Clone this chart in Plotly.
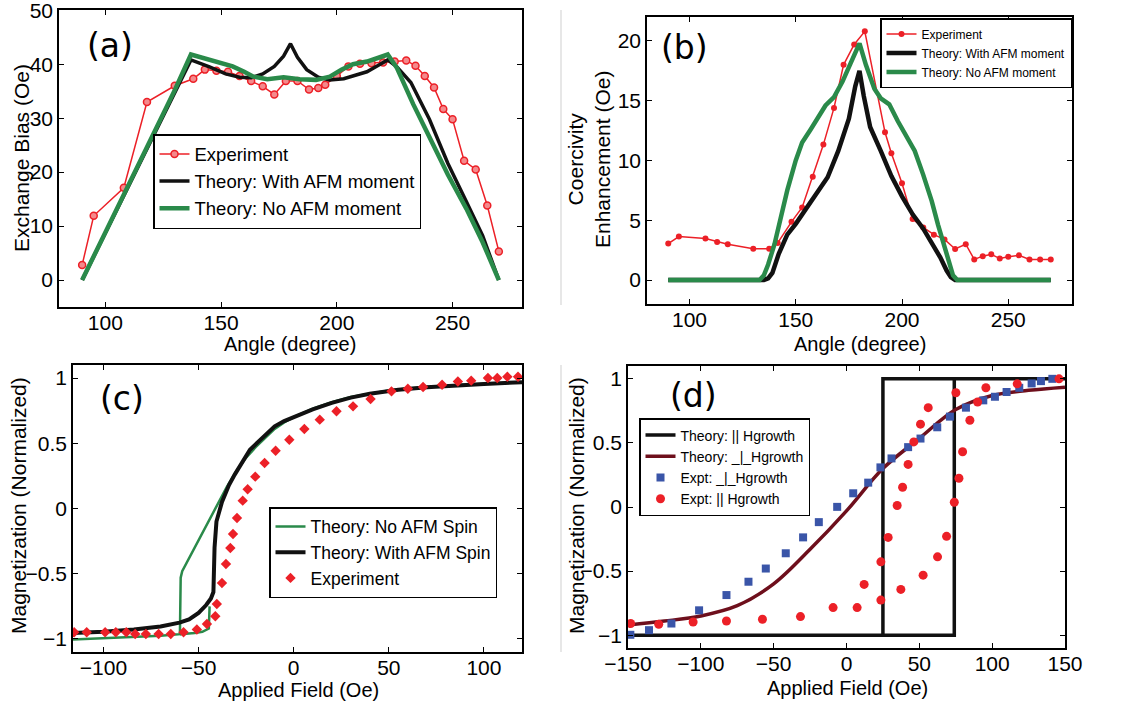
import plotly.graph_objects as go

# ---------------- Panel (a): Exchange bias vs angle ----------------
a_exp_angle = [90, 95, 108, 118, 130, 138, 143, 148, 153, 158, 163, 168, 173, 178, 183, 188,
               192, 195, 200, 205, 210, 215, 220, 225, 230, 234, 238, 242, 246, 250, 255, 260, 265, 270]
a_exp_bias = [2.8, 11.9, 17.1, 33.0, 36.0, 37.3, 39.0, 38.8, 38.6, 37.8, 36.9, 35.9, 34.4, 36.9, 36.9, 35.3,
              35.6, 36.2, 37.8, 39.6, 40.1, 40.2, 40.3, 40.5, 40.7, 39.7, 37.8, 35.7, 31.7, 29.8, 22.1, 20.5, 13.8, 5.3]

a_afm_angle = [90, 100, 110, 120, 130, 137, 145, 152, 158, 163, 168, 173, 177, 180, 183, 187, 192, 197,
               203, 208, 213, 218, 222, 226, 232, 240, 248, 256, 263, 270]
a_afm_bias = [0, 8.7, 17.5, 26.3, 35.0, 40.8, 39.5, 38.2, 37.6, 37.5, 38.2, 39.6, 41.5, 43.8, 41.3, 39.0, 37.6, 37.1,
              37.3, 37.9, 38.6, 39.8, 40.8, 39.5, 36.6, 29.8, 21.6, 14.5, 8.2, 0]

a_noafm_angle = [90, 100, 110, 120, 130, 137, 142, 148, 155, 160, 164, 170, 177, 184, 191, 197, 202, 207,
                 213, 218, 222, 226, 233, 240, 248, 256, 263, 270]
a_noafm_bias = [0, 8.7, 17.5, 26.3, 35.2, 41.8, 41.2, 40.4, 39.6, 38.6, 37.7, 37.2, 37.6, 37.2, 37.1, 37.7, 39.0, 40.0,
                40.5, 41.2, 41.8, 39.3, 32.6, 26.5, 19.5, 13.2, 7.0, 0]

# ---------------- Panel (b): Coercivity enhancement vs angle ----------------
b_exp_angle = [90, 95, 107.5, 113, 118, 130, 137.5, 141.5, 148, 153, 158, 163, 168, 172.5, 177.5, 182.5,
               192, 195, 200, 205, 210, 215, 220, 225, 230, 234, 238, 242, 246, 250, 255, 260, 265, 270]
b_exp_hc = [3.05, 3.64, 3.47, 3.19, 2.99, 2.63, 2.63, 3.1, 4.87, 6.07, 8.64, 11.33, 14.4, 18.0, 19.7, 20.8,
            12.36, 10.6, 8.1, 5.1, 4.4, 3.8, 3.4, 2.6, 3.0, 1.73, 2.0, 2.15, 1.8, 1.96, 2.07, 1.73, 1.73, 1.73]

b_afm_angle = [90, 135, 137, 139, 142, 146, 150, 155, 160, 165, 170, 175, 178, 180, 182, 185, 190, 195,
               200, 205, 210, 215, 218, 221, 223, 225, 270]
b_afm_hc = [0, 0, 0.15, 0.6, 2.2, 3.8, 4.7, 6.0, 7.2, 8.6, 10.8, 13.5, 16.2, 17.5, 15.4, 12.8, 10.8, 8.7,
            7.0, 5.5, 4.3, 2.9, 1.9, 0.8, 0.25, 0, 0]

b_noafm_angle = [90, 133, 135, 137, 140, 143, 146, 150, 153, 157, 161, 164, 168, 172, 176, 180, 183, 187,
                 190, 194, 198, 202, 206, 210, 214, 217, 220, 222, 224, 226, 270]
b_noafm_hc = [0, 0, 0.4, 1.3, 3.0, 5.2, 7.5, 10.0, 11.5, 12.6, 13.8, 14.6, 15.3, 16.6, 18.2, 19.8, 18.0, 16.0,
              15.2, 14.7, 13.3, 12.0, 10.8, 8.8, 6.6, 4.6, 2.8, 1.3, 0.4, 0, 0]

# ---------------- Panel (c): Magnetization loops ----------------
c_noafm_field = [-116, -100, -84, -70, -59.8, -59.4, -58.6, -41, -38, -35, -30, -25, -20, -15, -10, -5, 0,
                 10, 20, 30, 40, 50, 60, 75, 90, 105, 120,
                 None, -59.8, -52, -48, -44.6, -44.2]
c_noafm_m = [-1.005, -0.995, -0.987, -0.976, -0.963, -0.53, -0.48, 0.0, 0.08, 0.17, 0.29, 0.39, 0.47, 0.54, 0.61, 0.66, 0.70,
             0.765, 0.815, 0.855, 0.88, 0.905, 0.92, 0.937, 0.948, 0.958, 0.967,
             None, -0.963, -0.955, -0.945, -0.92, -0.75]

c_afm_field = [-116, -100, -84, -70, -60, -55, -50, -46, -43.5, -42.2, -41.6, -40.6, -37.7, -34, -31, -27, -23,
               -18, -14, -10, -5, 0, 5, 10, 20, 30, 40, 55, 70, 85, 100, 120]
c_afm_m = [-0.954, -0.945, -0.928, -0.905, -0.875, -0.85, -0.80, -0.74, -0.69, -0.64, -0.30, -0.10, 0.05, 0.18,
           0.26, 0.36, 0.45, 0.52, 0.58, 0.63, 0.67, 0.70, 0.73, 0.76, 0.81, 0.85, 0.88, 0.91, 0.93, 0.945, 0.955, 0.968]

c_exp_field = [-115.4, -108.8, -99.1, -93.5, -88, -83.3, -77.7, -71, -64.6, -57.9, -50.9, -45.6, -41.2, -40.4,
               -37.7, -35.6, -33.3, -31.9, -29.8, -26.8, -24.2, -20.2, -15.3, -9.5, -2.3, 5.6, 13.7, 22.5, 31.2,
               40.4, 51.4, 60, 68, 78, 86.3, 93.3, 102.1, 107, 112.3, 117.9]
c_exp_m = [-0.949, -0.949, -0.949, -0.949, -0.949, -0.962, -0.962, -0.962, -0.962, -0.949, -0.928, -0.885, -0.826,
           -0.732, -0.571, -0.425, -0.303, -0.195, -0.073, 0.060, 0.147, 0.244, 0.349, 0.443, 0.527, 0.609, 0.681,
           0.745, 0.783, 0.839, 0.898, 0.918, 0.931, 0.949, 0.974, 0.980, 1.0, 1.0, 1.01, 1.01]

# ---------------- Panel (d): Magnetization vs growth field direction ----------------
d_par_theory_field = [-148, 74, 74, 150, 25, 25]
d_par_theory_m = [-1, -1, 1, 1, 1, -1]

d_perp_theory_field = [-150, -125, -100, -75, -50, -25, 0, 25, 50, 75, 100, 125, 150]
d_perp_theory_m = [-0.92, -0.89, -0.85, -0.77, -0.60, -0.33, -0.03, 0.30, 0.535, 0.76, 0.87, 0.91, 0.935]

d_perp_exp_field = [-148.4, -135.6, -120.2, -101.2, -82.4, -67.3, -55.4, -41.7, -29.8, -19, -6.4, 4.6, 14.9,
                    23.3, 30.9, 42.3, 50.8, 62.3, 71, 82, 93.9, 101.9, 109.9, 118.6, 127.1, 133.5, 141.3]
d_perp_exp_m = [-0.997, -0.961, -0.909, -0.806, -0.687, -0.583, -0.480, -0.361, -0.237, -0.118, 0.001, 0.107, 0.190,
                0.309, 0.379, 0.467, 0.534, 0.622, 0.705, 0.775, 0.832, 0.860, 0.897, 0.930, 0.964, 0.982, 1.0]

d_par_exp_field = [-148.2, -128.9, -105.3, -82.4, -57.7, -31.6, -9.2, 7.3, 12.1, 23.6, 23.6, 28.6, 34.8, 38.5,
                   42.3, 46.2, 50.8, 56.1, 37.3, 52.6, 62.5, 68.7, 74, 77.2, 79.7, 84.7, 90, 75.1, 95.7, 117.2, 145.9]
d_par_exp_m = [-0.909, -0.915, -0.897, -0.889, -0.876, -0.855, -0.785, -0.785, -0.604, -0.726, -0.428, -0.237, 0.012,
               0.154, 0.332, 0.508, 0.646, 0.775, -0.643, -0.532, -0.389, -0.229, 0.037, 0.224, 0.431, 0.677, 0.819,
               0.891, 0.930, 0.961, 1.0]

# ---------------- styling ----------------
RED = "#ec2027"
GREEN = "#2a8a4a"
BLACK = "#111111"
BLUE = "#3a55a8"
MAROON = "#6e0f1c"
FONT = "Liberation Sans"
W, H = 1123, 704


def px_x(p):
    return p / W


def px_y(p):
    return 1 - p / H


def dom_x(l, r):
    return [px_x(l), px_x(r)]


def dom_y(t, b):
    return [px_y(b), px_y(t)]


fig = go.Figure()

# (a)
fig.add_trace(go.Scatter(x=a_exp_angle, y=a_exp_bias, mode="lines+markers", name="Experiment",
                         line=dict(color=RED, width=1.5),
                         marker=dict(symbol="circle", size=7, color="#f4898c", line=dict(color=RED, width=1.5)),
                         xaxis="x", yaxis="y", legend="legend"))
fig.add_trace(go.Scatter(x=a_afm_angle, y=a_afm_bias, mode="lines", name="Theory: With AFM moment",
                         line=dict(color=BLACK, width=3.5), xaxis="x", yaxis="y", legend="legend"))
fig.add_trace(go.Scatter(x=a_noafm_angle, y=a_noafm_bias, mode="lines", name="Theory: No AFM moment",
                         line=dict(color=GREEN, width=4.5), xaxis="x", yaxis="y", legend="legend"))

# (b)
fig.add_trace(go.Scatter(x=b_exp_angle, y=b_exp_hc, mode="lines+markers", name="Experiment",
                         line=dict(color=RED, width=1.5), marker=dict(symbol="circle", size=6, color=RED),
                         xaxis="x2", yaxis="y2", legend="legend2"))
fig.add_trace(go.Scatter(x=b_afm_angle, y=b_afm_hc, mode="lines", name="Theory: With AFM moment",
                         line=dict(color=BLACK, width=4.5), xaxis="x2", yaxis="y2", legend="legend2"))
fig.add_trace(go.Scatter(x=b_noafm_angle, y=b_noafm_hc, mode="lines", name="Theory: No AFM moment",
                         line=dict(color=GREEN, width=4.5), xaxis="x2", yaxis="y2", legend="legend2"))

# (c)
fig.add_trace(go.Scatter(x=c_noafm_field, y=c_noafm_m, mode="lines", name="Theory: No AFM Spin",
                         line=dict(color=GREEN, width=2.5), connectgaps=False,
                         xaxis="x3", yaxis="y3", legend="legend3"))
fig.add_trace(go.Scatter(x=c_afm_field, y=c_afm_m, mode="lines", name="Theory: With AFM Spin",
                         line=dict(color=BLACK, width=4), xaxis="x3", yaxis="y3", legend="legend3"))
fig.add_trace(go.Scatter(x=c_exp_field, y=c_exp_m, mode="markers", name="Experiment",
                         marker=dict(symbol="diamond", size=8, color=RED),
                         xaxis="x3", yaxis="y3", legend="legend3"))

# (d)
fig.add_trace(go.Scatter(x=d_par_theory_field, y=d_par_theory_m, mode="lines", name="Theory: || Hgrowth",
                         line=dict(color=BLACK, width=3.5), xaxis="x4", yaxis="y4", legend="legend4"))
fig.add_trace(go.Scatter(x=d_perp_theory_field, y=d_perp_theory_m, mode="lines", name="Theory: _|_Hgrowth",
                         line=dict(color=MAROON, width=3.5, shape="spline", smoothing=1.0),
                         xaxis="x4", yaxis="y4", legend="legend4"))
fig.add_trace(go.Scatter(x=d_perp_exp_field, y=d_perp_exp_m, mode="markers", name="Expt: _|_Hgrowth",
                         marker=dict(symbol="square", size=8, color=BLUE),
                         xaxis="x4", yaxis="y4", legend="legend4"))
fig.add_trace(go.Scatter(x=d_par_exp_field, y=d_par_exp_m, mode="markers", name="Expt: || Hgrowth",
                         marker=dict(symbol="circle", size=9, color=RED),
                         xaxis="x4", yaxis="y4", legend="legend4"))

axis_common = dict(showline=True, linecolor="black", linewidth=1.5, mirror="ticks", ticks="inside",
                   ticklen=5, tickwidth=1, tickcolor="black", showgrid=False, zeroline=False,
                   ticklabeloverflow="allow",
                   tickfont=dict(family=FONT, size=21, color="black"))
xaxis_extra = dict(ticklabelstandoff=-4)

legend_common = dict(bgcolor="white", bordercolor="black", borderwidth=1.5, xanchor="left", yanchor="top",
                     tracegroupgap=0, itemwidth=30)

fig.update_layout(
    width=W, height=H, paper_bgcolor="white", plot_bgcolor="white",
    margin=dict(l=0, r=0, t=0, b=0, autoexpand=False),
    font=dict(family=FONT, color="black"),
    xaxis=dict(axis_common, **xaxis_extra, domain=dom_x(59, 522), range=[80, 280],
               tickvals=[100, 150, 200, 250], anchor="y"),
    yaxis=dict(axis_common, domain=dom_y(10, 307), range=[-5, 50.05], dtick=10, anchor="x"),
    xaxis2=dict(axis_common, **xaxis_extra, domain=dom_x(647, 1072), range=[80, 280],
                tickvals=[100, 150, 200, 250], anchor="y2"),
    yaxis2=dict(axis_common, domain=dom_y(17, 304), range=[-2, 22], tickvals=[0, 5, 10, 15, 20], anchor="x2"),
    xaxis3=dict(axis_common, **xaxis_extra, domain=dom_x(73, 522), range=[-116, 120],
                tickvals=[-100, -50, 0, 50, 100], anchor="y3"),
    yaxis3=dict(axis_common, domain=dom_y(365, 652), range=[-1.1, 1.1], tickvals=[-1, -0.5, 0, 0.5, 1], anchor="x3"),
    xaxis4=dict(axis_common, **xaxis_extra, domain=dom_x(628, 1065), range=[-150, 150],
                tickvals=[-150, -100, -50, 0, 50, 100, 150], anchor="y4"),
    yaxis4=dict(axis_common, domain=dom_y(366, 648), range=[-1.1, 1.1], tickvals=[-1, -0.5, 0, 0.5, 1], anchor="x4"),
    legend=dict(legend_common, x=px_x(153), y=px_y(134), font=dict(family=FONT, size=18.5, color="black")),
    legend2=dict(legend_common, x=px_x(880), y=px_y(18), font=dict(family=FONT, size=12, color="black")),
    legend3=dict(legend_common, x=px_x(269), y=px_y(507), font=dict(family=FONT, size=17.5, color="black")),
    legend4=dict(legend_common, x=px_x(639), y=px_y(418), font=dict(family=FONT, size=14, color="black")),
    showlegend=True,
)

# axis titles (placed as text at the reference positions)
xt_font = dict(family=FONT, size=20, color="black")
yt_font = dict(family=FONT, size=21, color="black")
x_titles = [("Angle (degree)", 290, 344), ("Angle (degree)", 860, 344),
            ("Applied Field (Oe)", 298, 690), ("Applied Field (Oe)", 847, 688)]
for txt, xc, yc in x_titles:
    fig.add_annotation(text=txt, x=px_x(xc), y=px_y(yc), xref="paper", yref="paper", showarrow=False,
                       font=xt_font, xanchor="center", yanchor="middle")
y_titles = [("Exchange Bias (Oe)", 22, 158), ("Coercivity<br>Enhancement (Oe)", 589, 160),
            ("Magnetization (Normalized)", 18, 506), ("Magnetization (Normalized)", 576, 506)]
for txt, xc, yc in y_titles:
    fig.add_annotation(text=txt, x=px_x(xc), y=px_y(yc), xref="paper", yref="paper", showarrow=False,
                       font=yt_font, textangle=-90, xanchor="center", yanchor="middle")

label_font = dict(family="DejaVu Sans", size=33, color="black")
for txt, xc, yc in [("(a)", 110, 45), ("(b)", 684, 47), ("(c)", 122, 398), ("(d)", 693, 395)]:
    fig.add_annotation(text=txt, x=px_x(xc), y=px_y(yc), xref="paper", yref="paper",
                       showarrow=False, font=label_font, xanchor="center", yanchor="middle")

# light grey separators seen left of the right-hand panels
for y0, y1 in [(10, 305), (365, 652)]:
    fig.add_shape(type="line", xref="paper", yref="paper", x0=px_x(561), x1=px_x(561),
                  y0=px_y(y1), y1=px_y(y0), line=dict(color="#cfcfcf", width=1))

fig.write_html("out.html", config={"displayModeBar": False},
               post_script="document.body.style.margin='0';document.body.style.overflow='hidden';")
